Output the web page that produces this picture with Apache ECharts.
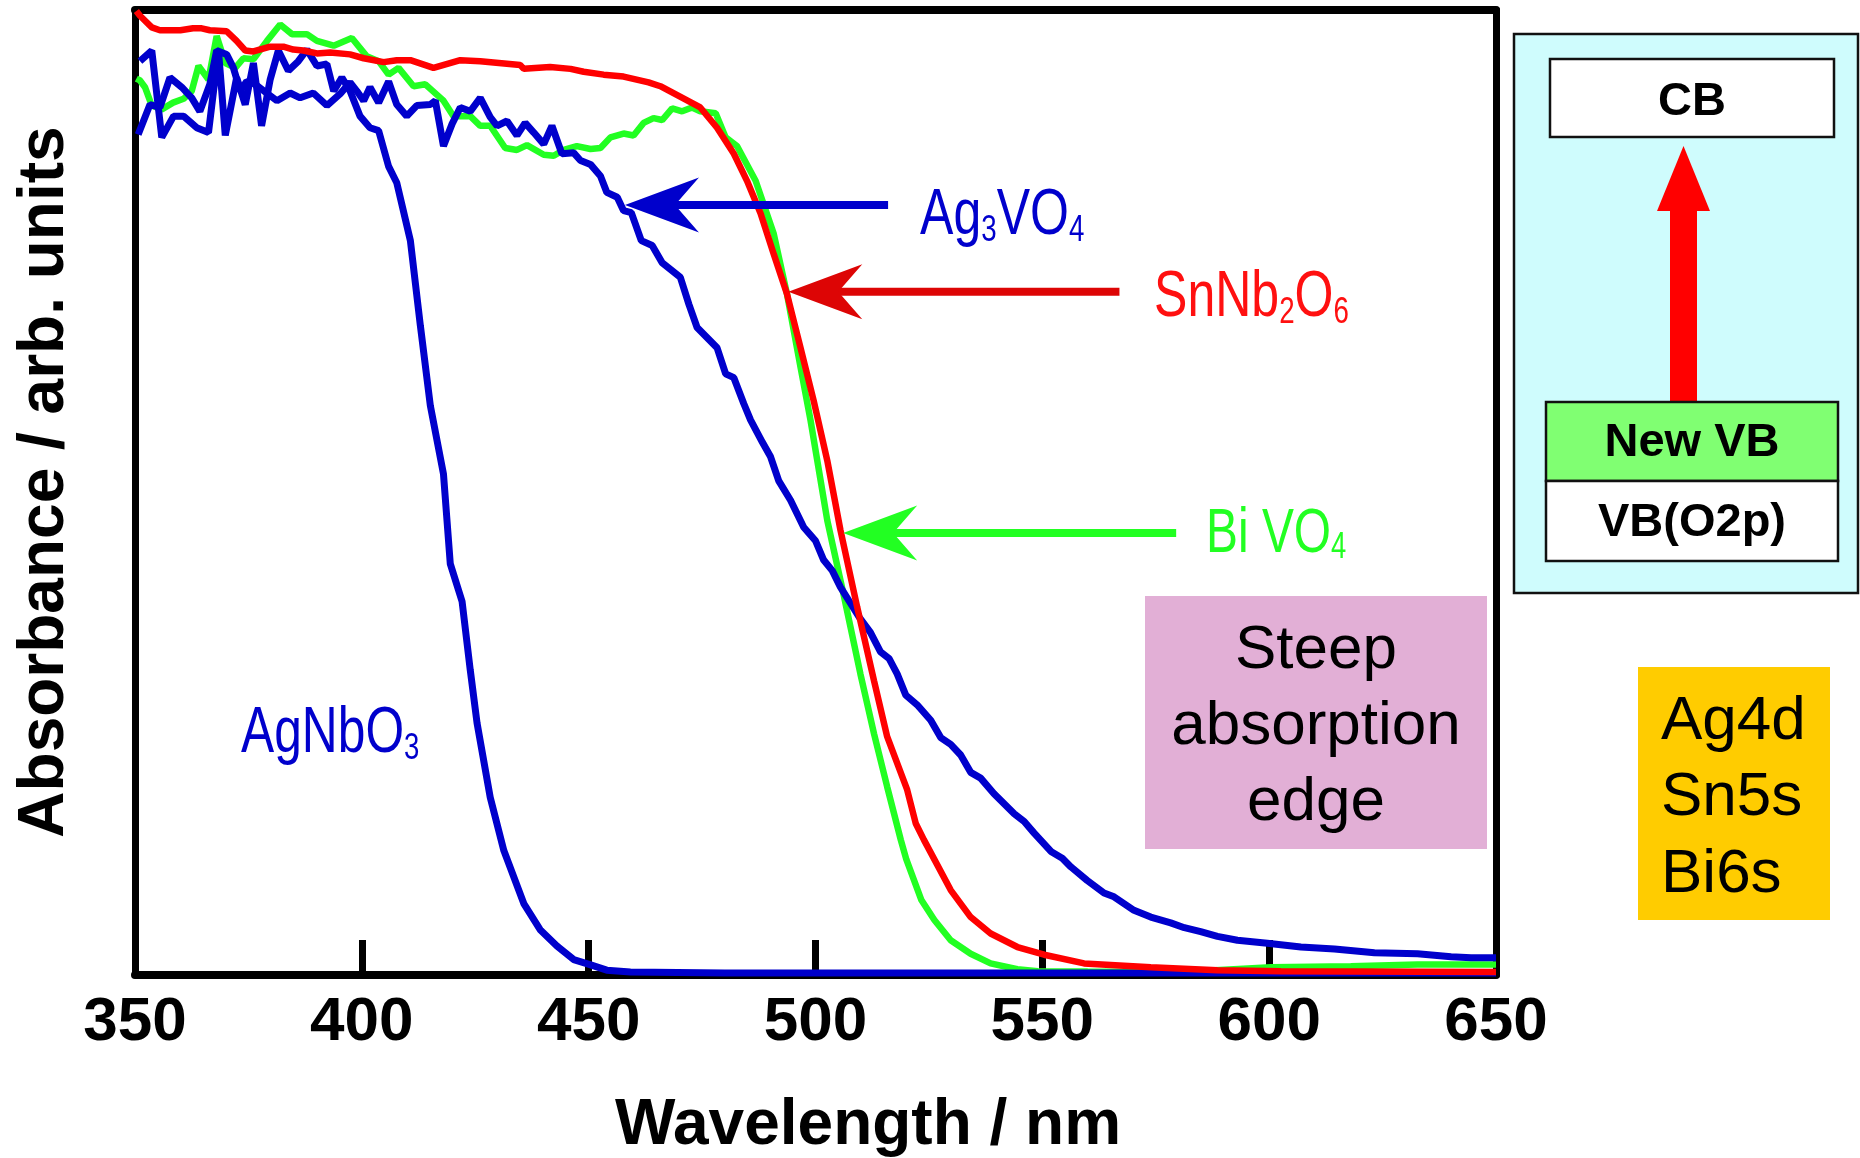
<!DOCTYPE html>
<html>
<head>
<meta charset="utf-8">
<script src="https://cdn.jsdelivr.net/npm/echarts/dist/echarts.min.js"></script>
<style>
html,body{margin:0;padding:0;background:#ffffff;}
#chart{width:1860px;height:1158px;}
</style>
</head>
<body>
<div id="chart"></div>
<script>
// ---------------- data (wavelength in nm, absorbance in arb. units 0-100) ----------------
const xTickValues = [350, 400, 450, 500, 550, 600, 650];

const agnbo3Nm  = [351.1,353.7,355.9,358.5,360.7,363.6,366.2,368.4,369.9,372.4,374.3,376.1,377.9,379.8,381.6,383.8,386.0,387.9,390.1,392.3,393.8,395.6,397.4,399.6,401.8,403.7,405.9,407.7,410.7,412.9,415.1,418.0,419.5,422.1,423.9,425.4,428.3,431.3,435.7,439.3,443.0,446.7,450.1,454.0,459.2,480.0,550.0,650.0];
const agnbo3Abs = [94.7,95.8,86.8,89.0,89.0,87.8,87.3,95.8,87.0,93.0,90.2,94.5,88.0,92.8,95.8,93.7,94.7,95.9,94.2,94.4,91.6,93.0,91.6,89.0,87.8,87.5,83.8,82.1,76.1,67.3,59.0,51.9,42.6,38.7,31.6,26.1,18.4,12.9,7.4,4.7,3.0,1.6,1.1,0.5,0.3,0.2,0.2,0.2];

const ag3vo4Nm  = [350.7,353.3,355.5,357.7,360.3,362.5,364.3,366.5,368.0,370.2,371.7,373.2,374.6,376.5,379.0,381.3,384.2,386.4,389.3,392.3,395.2,397.4,398.9,400.4,401.8,403.7,405.9,407.7,409.9,412.1,415.1,416.2,418.0,419.9,421.7,423.9,426.1,428.3,429.8,432.0,434.2,436.0,437.9,440.1,441.9,444.1,446.7,448.2,450.4,452.6,454.0,456.3,457.7,459.4,461.6,464.0,466.2,470.2,472.1,473.9,478.3,480.2,482.0,484.2,485.7,488.3,490.1,491.9,494.5,497.4,500.0,501.8,503.7,505.5,509.6,512.1,514.3,516.2,518.0,519.9,522.4,525.4,527.6,529.8,532.0,534.2,536.4,539.3,543.8,546.0,548.2,551.9,554.4,556.3,559.9,563.6,565.8,570.2,573.9,578.3,581.3,584.9,588.6,593.0,599.6,607.0,614.4,623.2,632.7,640.1,644.5,650.0];
const ag3vo4Abs = [87.1,90.2,89.9,93.0,92.0,90.9,89.5,92.3,95.8,95.4,94.0,91.6,92.6,92.3,91.4,90.6,91.4,90.9,91.4,90.1,91.3,92.5,91.6,90.6,92.0,90.4,92.6,90.2,89.0,90.1,90.2,90.6,85.9,88.2,89.9,89.5,90.9,88.9,88.0,88.5,87.0,88.3,87.3,86.1,88.0,85.1,85.2,84.4,84.0,82.8,81.1,80.6,79.2,79.0,76.1,75.6,73.8,72.3,69.5,67.1,65.0,62.3,61.9,59.2,57.5,55.2,53.7,51.2,49.2,46.4,45.0,43.0,41.9,40.2,37.1,35.5,33.5,32.8,31.2,29.0,28.0,26.4,24.6,23.9,22.8,21.0,20.4,18.8,16.7,15.9,14.7,12.8,12.1,11.2,9.8,8.5,8.1,6.7,6.0,5.4,4.9,4.5,4.0,3.6,3.3,2.9,2.7,2.3,2.2,1.9,1.8,1.8];

const snnb2o6Nm  = [350.3,351.1,353.7,355.5,360.0,362.8,364.7,366.5,370.2,372.4,374.3,376.1,379.8,382.7,384.9,387.1,390.1,393.0,397.4,400.4,404.8,407.7,410.7,415.8,421.7,426.1,434.9,435.7,441.5,446.0,448.9,453.3,457.7,463.2,465.8,474.6,478.3,482.0,484.9,487.9,490.8,493.7,496.7,499.6,502.6,505.5,509.2,512.9,515.8,520.2,522.1,523.9,529.8,534.2,538.6,544.5,550.4,559.2,573.9,588.6,602.6,650.0];
const snnb2o6Abs = [99.9,99.4,98.2,97.9,97.9,98.1,98.1,97.9,97.8,96.8,95.8,95.7,96.2,96.2,95.9,95.8,95.5,95.6,95.4,95.0,94.6,94.8,94.8,94.0,94.8,94.7,94.3,93.9,94.1,93.9,93.6,93.3,93.1,92.5,92.1,89.9,87.8,85.1,82.3,78.9,74.7,70.6,65.0,59.5,53.3,46.1,38.1,30.5,24.7,19.2,15.7,14.0,8.8,6.0,4.3,2.9,2.1,1.2,0.8,0.5,0.4,0.3];

const bivo4Nm  = [350.3,351.1,352.2,353.7,355.9,358.4,360.7,362.5,364.0,366.2,368.0,369.9,372.1,373.9,376.1,379.1,382.0,384.6,387.9,390.1,393.8,397.8,401.1,403.7,405.9,408.1,411.4,414.0,418.0,420.2,423.9,426.1,428.3,431.6,434.2,436.4,440.1,442.3,444.5,447.4,450.4,452.6,454.8,457.7,459.9,462.1,464.3,466.2,468.4,470.6,472.8,474.6,478.0,480.2,482.7,486.8,490.8,493.7,496.7,498.9,502.6,506.3,509.9,512.9,515.8,518.8,520.0,523.3,526.2,529.8,534.2,538.6,544.5,549.0,560.0,581.0,600.4,618.0,632.7,650.0];
const bivo4Abs = [92.9,92.7,92.0,90.1,89.7,90.4,90.8,91.6,94.2,92.8,97.3,94.5,94.0,95.0,94.9,96.8,98.5,97.5,97.5,96.8,96.3,97.1,95.2,94.7,93.3,94.0,92.1,92.3,90.6,89.0,89.0,88.0,88.0,85.7,85.5,86.0,85.0,84.9,85.5,85.9,85.6,85.7,86.8,87.2,87.0,88.3,88.8,88.6,89.8,89.5,89.9,89.5,89.3,86.8,85.9,82.3,76.8,70.6,63.0,57.5,47.1,39.2,31.2,25.0,19.5,14.0,12.0,7.8,5.7,3.6,2.2,1.2,0.6,0.4,0.35,0.3,0.8,0.9,1.1,1.1];

// arrow annotations (tip and tail in data units)
const arrowTipNm  = [458.0, 494.0, 506.1];
const arrowTipAbs = [79.8, 70.8, 45.8];
const arrowTailNm = [516.0, 567.0, 579.5];

// ---------------- chart ----------------
const FONT = "'Liberation Sans', Arial, Helvetica, sans-serif";
const BLUE = '#0000CC', RED = '#FF0000', GREEN = '#22FF22';

function zip(xs, ys) { return xs.map((x, i) => [x, ys[i]]); }

const chart = echarts.init(document.getElementById('chart'), null, {renderer: 'canvas', width: 1860, height: 1158});

function lineSeries(name, xs, ys, color, width, z) {
  return {
    type: 'line', name: name, data: zip(xs, ys),
    showSymbol: false, symbol: 'none', clip: true, z: z,
    lineStyle: {color: color, width: width},
    itemStyle: {color: color},
    emphasis: {disabled: true},
    animation: false
  };
}

const option = {
  animation: false,
  backgroundColor: '#ffffff',
  grid: {left: 135, right: 364, top: 10, bottom: 183, containLabel: false, outerBoundsMode: 'none'},
  xAxis: [{
    type: 'value', min: 350, max: 650, interval: 50, position: 'bottom',
    axisLine: {show: true, onZero: false, lineStyle: {color: '#000', width: 8}},
    axisTick: {show: true, inside: true, length: 35, lineStyle: {color: '#000', width: 7}},
    axisLabel: {show: true, margin: 17, fontSize: 62, fontWeight: 'bold', color: '#000', fontFamily: FONT,
                showMinLabel: true, showMaxLabel: true,
                formatter: v => xTickValues.indexOf(v) >= 0 ? String(v) : ''},
    splitLine: {show: false},
    name: 'Wavelength / nm', nameLocation: 'middle', nameGap: 119,
    nameTextStyle: {fontSize: 64, fontWeight: 'bold', color: '#000', fontFamily: FONT, padding: [0, 0, 0, 105]}
  }, {
    type: 'value', min: 350, max: 650, interval: 50, position: 'top',
    axisLine: {show: true, onZero: false, lineStyle: {color: '#000', width: 8}},
    axisTick: {show: false}, axisLabel: {show: false}, splitLine: {show: false}
  }],
  yAxis: [{
    type: 'value', min: 0, max: 100, position: 'left',
    axisLine: {show: true, onZero: false, lineStyle: {color: '#000', width: 7}},
    axisTick: {show: false}, axisLabel: {show: false}, splitLine: {show: false},
    name: 'Absorbance / arb. units', nameLocation: 'middle', nameRotate: 90, nameGap: 58,
    nameTextStyle: {fontSize: 64, fontWeight: 'bold', color: '#000', fontFamily: FONT, padding: [0, 0, 0, 21]}
  }, {
    type: 'value', min: 0, max: 100, position: 'right',
    axisLine: {show: true, onZero: false, lineStyle: {color: '#000', width: 7}},
    axisTick: {show: false}, axisLabel: {show: false}, splitLine: {show: false}
  }],
  series: [
    lineSeries('BiVO4', bivo4Nm, bivo4Abs, GREEN, 6.5, 2),
    lineSeries('Ag3VO4', ag3vo4Nm, ag3vo4Abs, BLUE, 7, 3),
    lineSeries('AgNbO3', agnbo3Nm, agnbo3Abs, BLUE, 7, 3),
    lineSeries('SnNb2O6', snnb2o6Nm, snnb2o6Abs, RED, 6.5, 4)
  ]
};
chart.setOption(option);

// ---------------- annotations ----------------
function plainText(x, y, text, size, weight, align, color) {
  return {type: 'text', x: x, y: y, z: 60,
    style: {text: text, fontSize: size, fontWeight: weight, fontFamily: FONT, fill: color || '#000',
            align: align, verticalAlign: 'middle'}};
}
function formula(x, y, sx, color, size, parts) {
  const txt = parts.map(p => '{' + p[0] + '|' + p[1] + '}').join('');
  return {type: 'text', x: x, y: y, scaleX: sx, originX: 0, originY: 0, z: 60,
    style: {text: txt, x: 0, y: 0, align: 'left', verticalAlign: 'top',
      rich: {
        m: {fontSize: size, lineHeight: size, fontFamily: FONT, fill: color},
        s: {fontSize: 36, lineHeight: 46, fontFamily: FONT, fill: color, verticalAlign: 'bottom'}
      }}};
}

const graphics = [];
// compound labels
graphics.push(formula(920, 184, 0.77, BLUE, 65, [['m','Ag'],['s','3'],['m','VO'],['s','4']]));
graphics.push(formula(1154, 266, 0.77, '#FF1010', 65, [['m','SnNb'],['s','2'],['m','O'],['s','6']]));
graphics.push(formula(1206, 503, 0.76, GREEN, 63, [['m','Bi VO'],['s','4']]));
graphics.push(formula(241, 702, 0.765, BLUE, 65, [['m','AgNbO'],['s','3']]));

// arrows pointing at curves (positioned from data coordinates)
const arrowColors = [BLUE, '#DD0505', GREEN];
for (let i = 0; i < arrowTipNm.length; i++) {
  const tip = chart.convertToPixel({xAxisIndex: 0, yAxisIndex: 0}, [arrowTipNm[i], arrowTipAbs[i]]);
  const tail = chart.convertToPixel({xAxisIndex: 0, yAxisIndex: 0}, [arrowTailNm[i], arrowTipAbs[i]]);
  graphics.push({type: 'rect', z: 55, shape: {x: tip[0] + 48, y: tip[1] - 4, width: tail[0] - tip[0] - 48, height: 8},
                 style: {fill: arrowColors[i]}});
  graphics.push({type: 'polygon', z: 55, shape: {points: [[tip[0], tip[1]], [tip[0] + 74, tip[1] - 27.5],
                 [tip[0] + 50, tip[1]], [tip[0] + 74, tip[1] + 27.5]]}, style: {fill: arrowColors[i]}});
}

// "Steep absorption edge" box
graphics.push({type: 'rect', z: 50, shape: {x: 1145, y: 596, width: 342, height: 253}, style: {fill: '#E2AFD6'}});
graphics.push(plainText(1316, 651, 'Steep', 62, 'normal', 'center'));
graphics.push(plainText(1316, 727, 'absorption', 62, 'normal', 'center'));
graphics.push(plainText(1316, 803, 'edge', 62, 'normal', 'center'));

// orbital box
graphics.push({type: 'rect', z: 50, shape: {x: 1638, y: 667, width: 192, height: 253}, style: {fill: '#FFCC00'}});
graphics.push(plainText(1661, 722, 'Ag4d', 62, 'normal', 'left'));
graphics.push(plainText(1661, 798, 'Sn5s', 62, 'normal', 'left'));
graphics.push(plainText(1661, 875, 'Bi6s', 62, 'normal', 'left'));

// band diagram
graphics.push({type: 'rect', z: 50, shape: {x: 1514, y: 34, width: 344, height: 559},
               style: {fill: '#CFFCFD', stroke: '#111', lineWidth: 2.5}});
graphics.push({type: 'rect', z: 51, shape: {x: 1550, y: 59, width: 284, height: 78},
               style: {fill: '#ffffff', stroke: '#111', lineWidth: 2.5}});
graphics.push(plainText(1692, 102, 'CB', 47, 'bold', 'center'));
graphics.push({type: 'rect', z: 51, shape: {x: 1670, y: 208, width: 27, height: 194}, style: {fill: '#FF0000'}});
graphics.push({type: 'polygon', z: 51, shape: {points: [[1683.5, 146], [1657, 211], [1710, 211]]}, style: {fill: '#FF0000'}});
graphics.push({type: 'rect', z: 51, shape: {x: 1546, y: 402, width: 292, height: 79},
               style: {fill: '#80FF72', stroke: '#111', lineWidth: 2.5}});
graphics.push(plainText(1692, 443, 'New VB', 47, 'bold', 'center'));
graphics.push({type: 'rect', z: 51, shape: {x: 1546, y: 481, width: 292, height: 80},
               style: {fill: '#ffffff', stroke: '#111', lineWidth: 2.5}});
graphics.push(plainText(1692, 523, 'VB(O2p)', 47, 'bold', 'center'));

chart.setOption({graphic: graphics});
</script>
</body>
</html>
